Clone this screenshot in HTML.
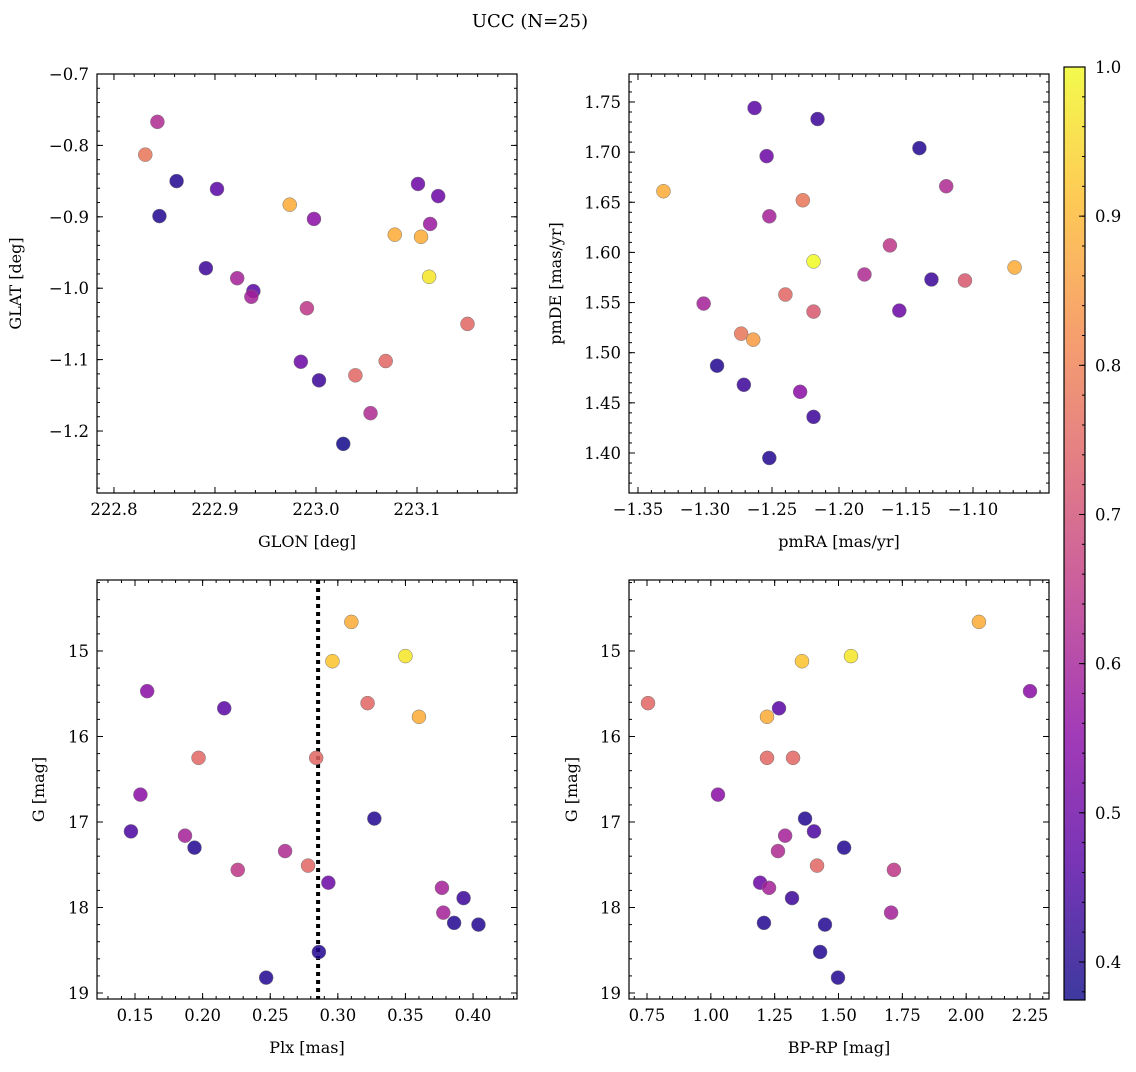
<!DOCTYPE html>
<html><head><meta charset="utf-8">
<style>
html,body{margin:0;padding:0;background:#fff;}
svg text{font-family:"DejaVu Serif","Liberation Serif",serif;fill:#000;}
</style></head>
<body>
<svg id="chart" width="1136" height="1067" viewBox="0 0 1136 1067" xmlns="http://www.w3.org/2000/svg">
<text x="530" y="27" font-size="18" text-anchor="middle">UCC (N=25)</text>
</svg>
<script>
// ---- Data: top-left (GLON vs GLAT)
const glon = [222.843,222.831,222.862,222.845,222.902,222.974,222.998,222.891,222.922,222.938,222.936,222.991,222.985,223.003,223.027,223.039,223.054,223.069,223.078,223.104,223.101,223.121,223.113,223.112,223.150];
const glat = [-0.767,-0.813,-0.850,-0.899,-0.861,-0.883,-0.903,-0.972,-0.986,-1.004,-1.012,-1.028,-1.103,-1.129,-1.218,-1.122,-1.175,-1.102,-0.925,-0.928,-0.854,-0.871,-0.910,-0.984,-1.050];
const probTL = [0.62,0.78,0.40,0.40,0.47,0.88,0.55,0.43,0.60,0.47,0.60,0.65,0.50,0.43,0.38,0.75,0.62,0.75,0.88,0.88,0.50,0.50,0.58,0.97,0.75];
// ---- Data: top-right (pmRA vs pmDE)
const pmra = [-1.263,-1.216,-1.254,-1.140,-1.331,-1.227,-1.120,-1.252,-1.162,-1.219,-1.181,-1.131,-1.069,-1.106,-1.301,-1.240,-1.219,-1.155,-1.273,-1.264,-1.291,-1.271,-1.229,-1.219,-1.252];
const pmde = [1.744,1.733,1.696,1.704,1.661,1.652,1.666,1.636,1.607,1.591,1.578,1.573,1.585,1.572,1.549,1.558,1.541,1.542,1.519,1.513,1.487,1.468,1.461,1.436,1.395];
const probTR = [0.47,0.43,0.50,0.40,0.88,0.78,0.62,0.60,0.65,1.00,0.62,0.43,0.88,0.72,0.60,0.75,0.72,0.50,0.78,0.85,0.40,0.43,0.55,0.43,0.40];
// ---- Data: bottom panels (Plx, BP-RP vs G)
const gmag = [14.66,15.12,15.06,15.47,15.61,15.67,15.77,16.25,16.25,16.68,17.11,17.16,17.30,16.96,17.34,17.56,17.51,17.71,17.77,18.06,17.89,18.18,18.20,18.52,18.82];
const plx  = [0.310,0.296,0.350,0.159,0.322,0.216,0.360,0.197,0.284,0.154,0.147,0.187,0.194,0.327,0.261,0.226,0.278,0.293,0.377,0.378,0.393,0.386,0.404,0.286,0.247];
const bprp = [2.050,1.357,1.549,2.250,0.754,1.267,1.220,1.220,1.322,1.028,1.404,1.291,1.522,1.369,1.263,1.717,1.416,1.193,1.228,1.706,1.318,1.208,1.447,1.428,1.498];
const probB = [0.88,0.92,0.97,0.55,0.75,0.47,0.88,0.75,0.75,0.55,0.45,0.60,0.40,0.40,0.62,0.65,0.75,0.50,0.60,0.60,0.43,0.40,0.40,0.40,0.40];
const plxLine = 0.2854;
const cbTicks = [0.4,0.5,0.6,0.7,0.8,0.9,1.0];
const vmin = 0.3745, vmax = 1.0;

const NS = "http://www.w3.org/2000/svg";
const svg = document.getElementById('chart');
function mk(tag, attrs, parent){const e=document.createElementNS(NS,tag);for(const k in attrs)e.setAttribute(k,attrs[k]);(parent||svg).appendChild(e);return e;}
const plasma=[[13,8,135],[84,2,163],[139,10,165],[185,50,137],[219,92,104],[244,136,73],[254,188,43],[240,249,33]];
function cmap(v){let t=(v-vmin)/(vmax-vmin);t=Math.max(0,Math.min(1,t));const p=t*(plasma.length-1);const i=Math.min(Math.floor(p),plasma.length-2);const f=p-i;const a=plasma[i],b=plasma[i+1];return `rgb(${[0,1,2].map(k=>Math.round(a[k]+(b[k]-a[k])*f)).join(',')})`;}
function fmt(v,d){const s=Math.abs(v).toFixed(d);return (v<-1e-9?'\u2212':'')+s;}
const TF=16.5;

function panel(cfg){
  const g=mk('g',{});
  
  
  const {x0,x1,y0,y1,xd,yd,inv}=cfg;
  const sx=v=>x0+(v-xd[0])/(xd[1]-xd[0])*(x1-x0);
  const sy=v=>inv? y0+(v-yd[0])/(yd[1]-yd[0])*(y1-y0) : y1-(v-yd[0])/(yd[1]-yd[0])*(y1-y0);
  const tg=mk('g',{stroke:'#000','stroke-width':1},g);
  for(let v=Math.ceil(xd[0]/cfg.xmin-1e-9)*cfg.xmin; v<=xd[1]+1e-9; v+=cfg.xmin){const X=sx(v);mk('line',{x1:X,x2:X,y1:y1,y2:y1-3},tg);mk('line',{x1:X,x2:X,y1:y0,y2:y0+3},tg);}
  for(let v=Math.ceil(yd[0]/cfg.ymin-1e-9)*cfg.ymin; v<=yd[1]+1e-9; v+=cfg.ymin){const Y=sy(v);mk('line',{x1:x0,x2:x0+3,y1:Y,y2:Y},tg);mk('line',{x1:x1,x2:x1-3,y1:Y,y2:Y},tg);}
  cfg.xt.forEach(v=>{const X=sx(v);mk('line',{x1:X,x2:X,y1:y1,y2:y1-6},tg);mk('line',{x1:X,x2:X,y1:y0,y2:y0+6},tg);
    const t=mk('text',{x:X,y:y1+22,'font-size':TF,'text-anchor':'middle'},g);t.textContent=fmt(v,cfg.xdp);
    
    });
  cfg.yt.forEach(v=>{const Y=sy(v);mk('line',{x1:x0,x2:x0+6,y1:Y,y2:Y},tg);mk('line',{x1:x1,x2:x1-6,y1:Y,y2:Y},tg);
    const t=mk('text',{x:x0-8,y:Y+6,'font-size':TF,'text-anchor':'end'},g);t.textContent=fmt(v,cfg.ydp);
    
    });
  if(cfg.vline!==undefined){const X=sx(cfg.vline);const l=mk('line',{x1:X,x2:X,y1:y0,y2:y1,stroke:'#000','stroke-width':4,'stroke-dasharray':'4,4'},g);
    
    }
  cfg.xs.forEach((xv,i)=>{const c=mk('circle',{cx:sx(xv),cy:sy(cfg.ys[i]),r:7,fill:cmap(cfg.ps[i]),'fill-opacity':0.85,stroke:'#777','stroke-width':0.5},g);
    
    });
  mk('rect',{x:x0,y:y0,width:x1-x0,height:y1-y0,fill:'none',stroke:'#000','stroke-width':1.2},g);
  const xl=mk('text',{x:(x0+x1)/2,y:y1+54,'font-size':16,'text-anchor':'middle'},g);xl.textContent=cfg.xlabel;
  
  
  const yx=cfg.ylx, yy=(y0+y1)/2;
  const yl=mk('text',{x:yx,y:yy,'font-size':16,'text-anchor':'middle',transform:`rotate(-90 ${yx} ${yy})`},g);yl.textContent=cfg.ylabel;
  
  
}
panel({name:'glon-glat-panel',x0:97,x1:517,y0:74,y1:493,xd:[222.7832,223.1990],yd:[-1.2868,-0.7],xt:[222.8,222.9,223.0,223.1],yt:[-0.7,-0.8,-0.9,-1.0,-1.1,-1.2],xdp:1,ydp:1,xmin:0.02,ymin:0.02,xs:glon,ys:glat,ps:probTL,xlabel:'GLON [deg]',ylabel:'GLAT [deg]',ylx:21});
panel({name:'pm-panel',x0:629,x1:1049,y0:74,y1:493,xd:[-1.3567,-1.0433],yd:[1.3601,1.7779],xt:[-1.35,-1.30,-1.25,-1.20,-1.15,-1.10],yt:[1.40,1.45,1.50,1.55,1.60,1.65,1.70,1.75],xdp:2,ydp:2,xmin:0.01,ymin:0.01,xs:pmra,ys:pmde,ps:probTR,xlabel:'pmRA [mas/yr]',ylabel:'pmDE [mas/yr]',ylx:561});
panel({name:'plx-g-panel',x0:97,x1:517,y0:580,y1:999,xd:[0.1219,0.4325],yd:[14.170,19.070],inv:true,xt:[0.15,0.20,0.25,0.30,0.35,0.40],yt:[15,16,17,18,19],xdp:2,ydp:0,xmin:0.01,ymin:0.2,xs:plx,ys:gmag,ps:probB,vline:plxLine,xlabel:'Plx [mas]',ylabel:'G [mag]',ylx:44});
panel({name:'cmd-panel',x0:629,x1:1049,y0:580,y1:999,xd:[0.6795,2.3244],yd:[14.170,19.070],inv:true,xt:[0.75,1.00,1.25,1.50,1.75,2.00,2.25],yt:[15,16,17,18,19],xdp:2,ydp:0,xmin:0.05,ymin:0.2,xs:bprp,ys:gmag,ps:probB,xlabel:'BP-RP [mag]',ylabel:'G [mag]',ylx:577});

const cb=mk('g',{});


const cbx=1064,cbw=21,cby0=67,cby1=1000;
const defs=mk('defs',{},cb);const grad=mk('linearGradient',{id:'cbg',x1:0,y1:1,x2:0,y2:0},defs);
plasma.forEach((c,i)=>mk('stop',{offset:(i/(plasma.length-1)),'stop-color':`rgb(${c.join(',')})`},grad));
mk('rect',{x:cbx,y:cby0,width:cbw,height:cby1-cby0,fill:'url(#cbg)','fill-opacity':0.8},cb);
mk('rect',{x:cbx,y:cby0,width:cbw,height:cby1-cby0,fill:'none',stroke:'#000','stroke-width':1.2},cb);
const cy=v=>cby1-(v-vmin)/(vmax-vmin)*(cby1-cby0);
for(let v=0.38;v<=1.0001;v+=0.02){const Y=cy(v);mk('line',{x1:cbx+cbw,x2:cbx+cbw-3,y1:Y,y2:Y,stroke:'#000'},cb);}
cbTicks.forEach(v=>{const Y=cy(v);mk('line',{x1:cbx+cbw,x2:cbx+cbw-6,y1:Y,y2:Y,stroke:'#000'},cb);
  const t=mk('text',{x:cbx+cbw+10,y:Y+6,'font-size':TF},cb);t.textContent=v.toFixed(1);
  
  });
</script>
</body></html>
